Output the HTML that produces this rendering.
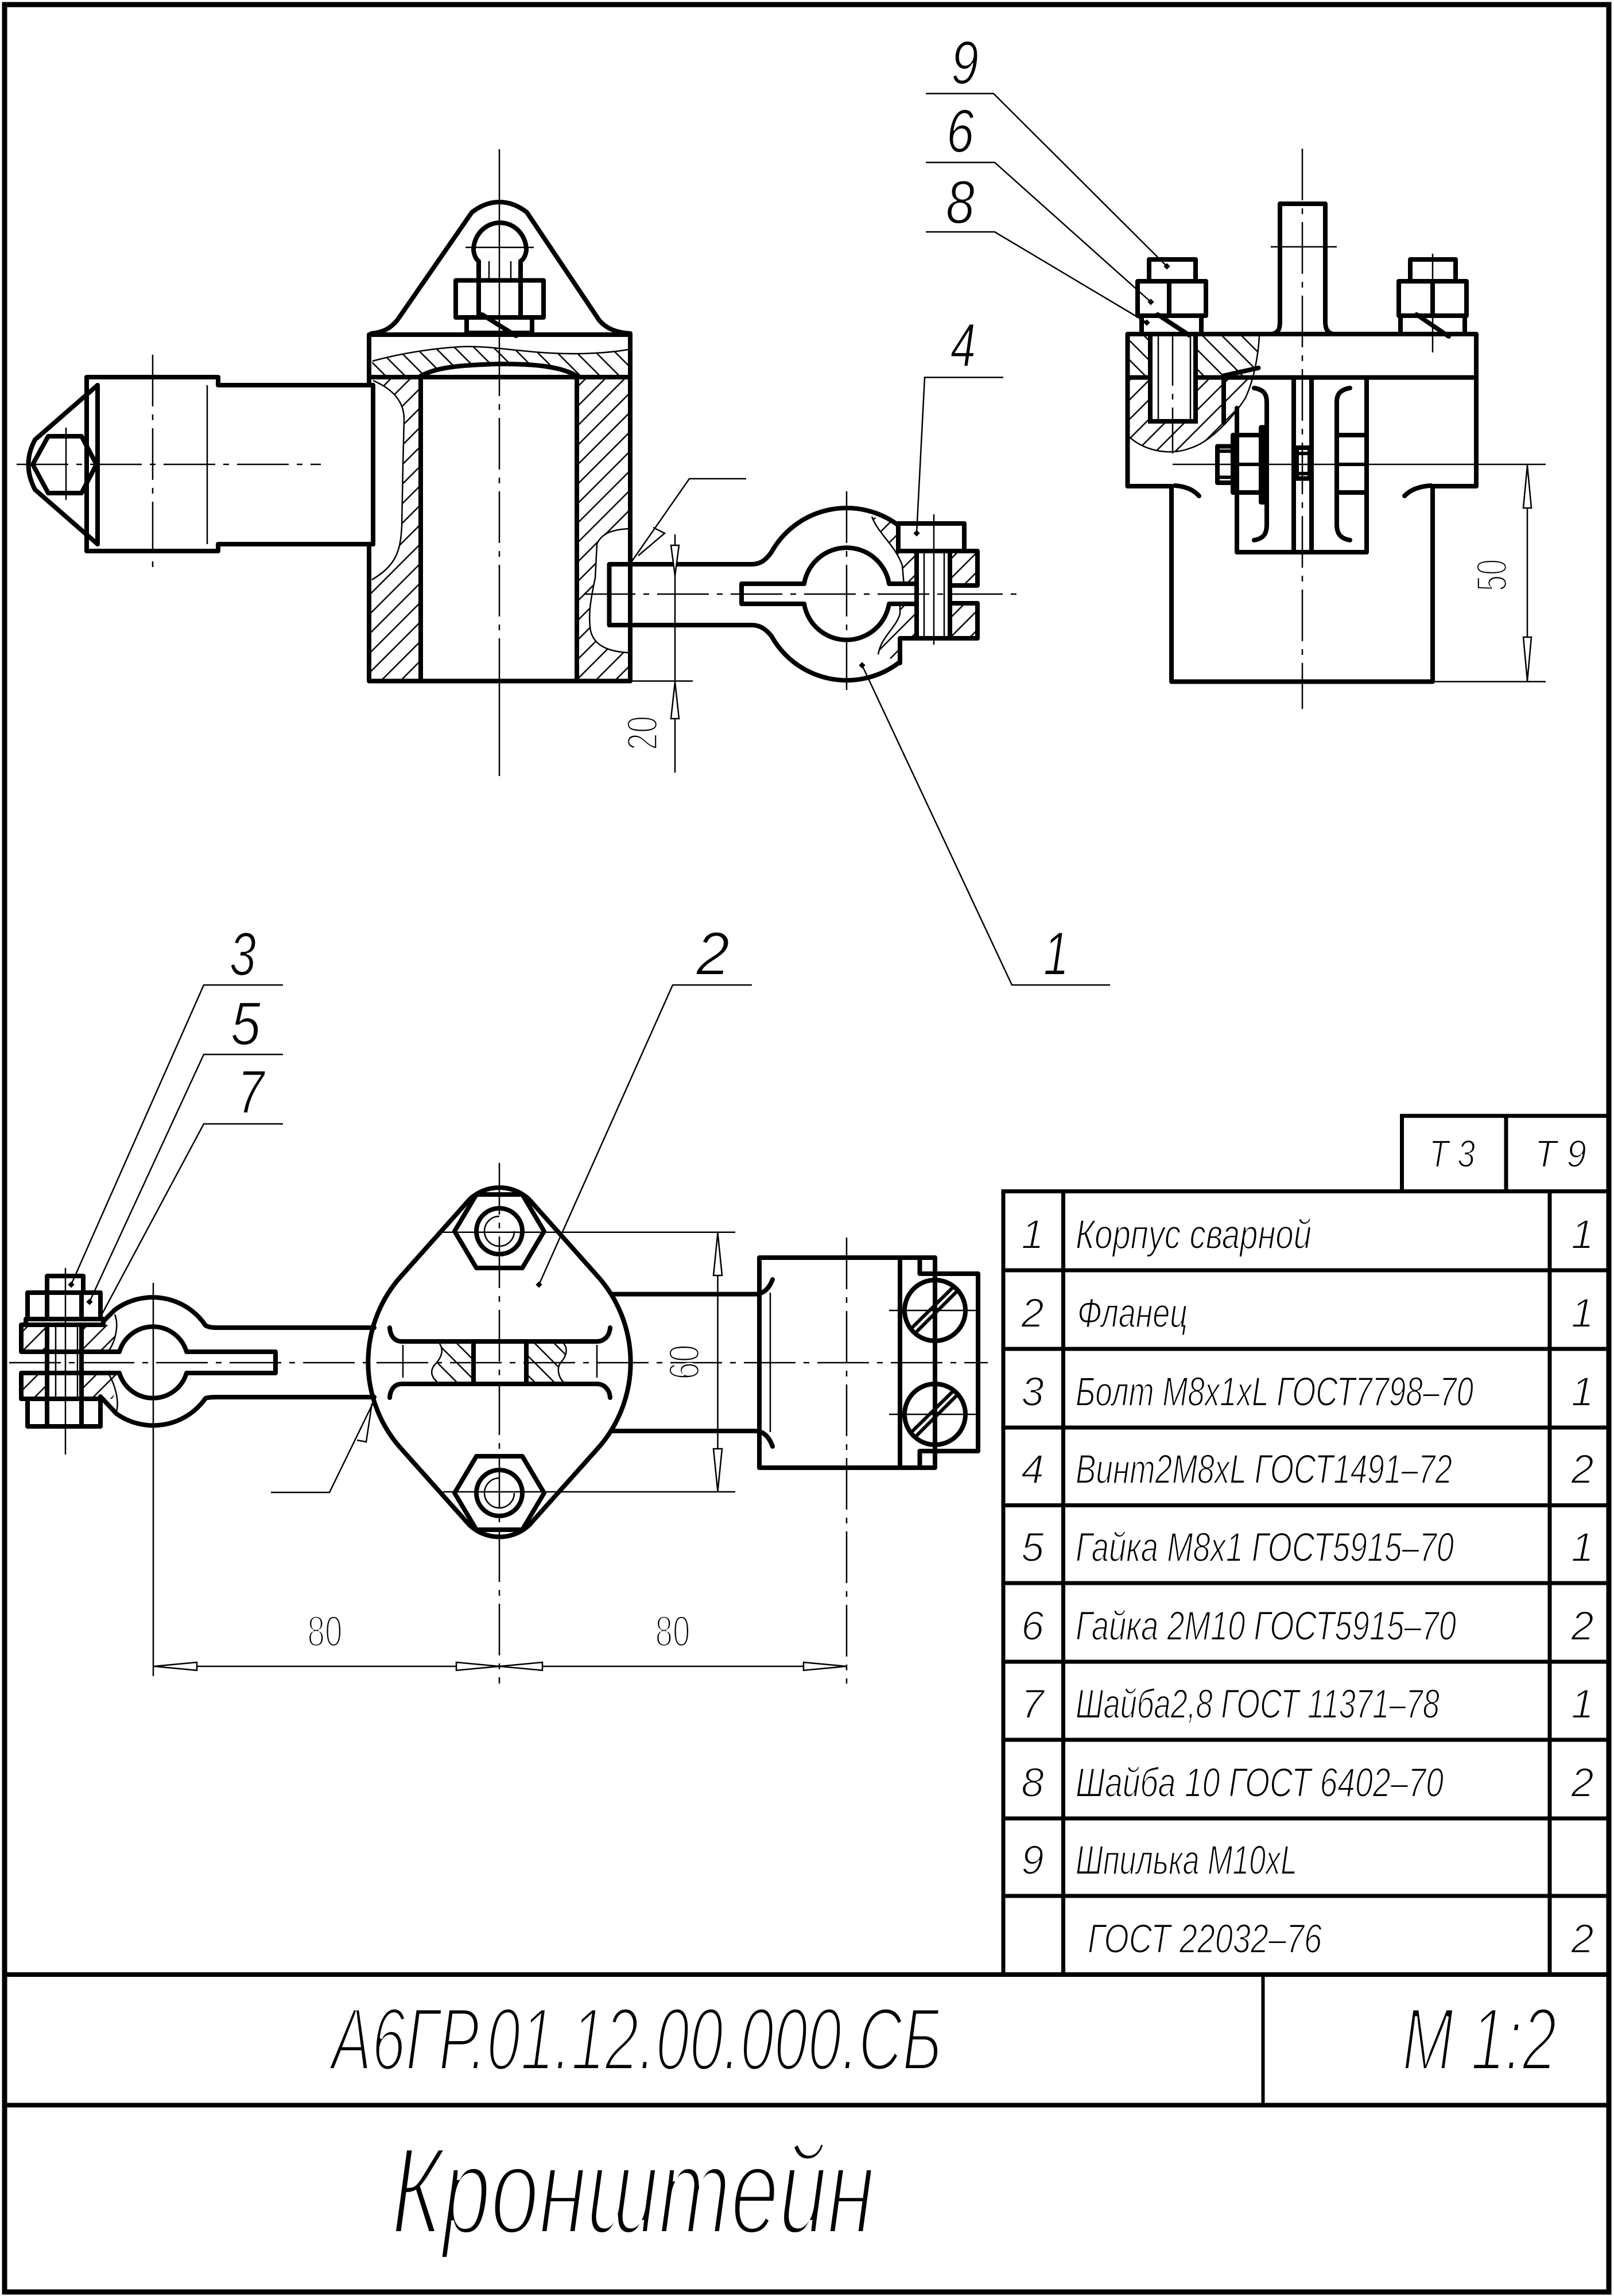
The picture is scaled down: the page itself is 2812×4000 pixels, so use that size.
<!DOCTYPE html>
<html><head><meta charset="utf-8">
<style>html,body{margin:0;padding:0;background:#fff}svg{display:block}</style>
</head><body>
<svg xmlns="http://www.w3.org/2000/svg" width="2812" height="4000" viewBox="0 0 2812 4000">
<defs>
<style>
.k{fill:none;stroke:#000;stroke-width:8;stroke-linejoin:round;stroke-linecap:round}
.m{fill:none;stroke:#000;stroke-width:6;stroke-linejoin:round}
.t{fill:none;stroke:#000;stroke-width:2.5}
.c{fill:none;stroke:#000;stroke-width:2.5;stroke-dasharray:90 14 10 14}
.a{fill:#fff;stroke:#000;stroke-width:2.5}
text{font-family:"Liberation Sans","DejaVu Sans",sans-serif;fill:#000;stroke:#fff;stroke-width:2}
.i{font-style:italic}
.ti{stroke-width:6}
.tk{stroke-width:8}
.tc{stroke-width:3.5}
</style>
<pattern id="hA" patternUnits="userSpaceOnUse" width="24" height="24" patternTransform="rotate(45)"><line x1="12" y1="-5" x2="12" y2="29" stroke="#000" stroke-width="2.5"/></pattern>
<pattern id="hB" patternUnits="userSpaceOnUse" width="24" height="24" patternTransform="rotate(-45)"><line x1="12" y1="-5" x2="12" y2="29" stroke="#000" stroke-width="2.5"/></pattern>
<clipPath id="secR"><path d="M1964.5,582 L2194,586 C2192,620 2185,660 2170,693 C2150,725 2110,770 2073,781 C2045,792 2000,790 1967,761 Z"/></clipPath>
</defs>

<!-- FRAME -->
<rect x="8" y="8" width="2795" height="3985" fill="none" stroke="#000" stroke-width="9"/>

<!-- ============ FRONT VIEW (top-left) ============ -->
<path fill="url(#hB)" d="M649,629 C690,618 740,608 803,604 C850,602 900,612 957,615 C1010,618 1060,615 1094,609 L1098,657 L1005,657 C980,640 920,632 870,632 C820,632 760,636 733,657 L643,657 Z"/>
<path fill="url(#hA)" d="M733,657 L733,1186 L643,1186 L643,1008 C690,985 698,960 700,916 L702,811 L704,730 C704,700 685,678 650,663 L650,657 Z"/>
<path fill="url(#hA)" d="M1005,657 L1098,657 L1098,921 C1070,922 1048,928 1040,948 L1037,1007 C1030,1040 1024,1070 1029,1099 C1035,1125 1060,1135 1098,1137 L1098,1186 L1005,1186 Z"/>
<path class="t" d="M649,629 C690,618 740,608 803,604 C850,602 900,612 957,615 C1010,618 1060,615 1094,609"/>
<path class="t" d="M650,663 C685,678 704,700 704,730 L702,811 L700,916 C698,960 690,985 648,1010"/>
<path class="t" d="M1098,921 C1070,922 1048,928 1040,948 L1037,1007 C1030,1040 1024,1070 1029,1099 C1035,1125 1060,1135 1094,1137"/>
<path class="k" d="M647,581 C668,579 680,572 692,558 L822,370 Q845,352 870,352 Q895,352 918,370 L1044,558 C1056,572 1072,579 1098,581"/>
<path class="k" d="M825,436 A46,48 0 0 1 917,436"/>
<path class="k" d="M825,436 Q827,450 834,455 L834,488 M917,436 Q915,450 907,455 L907,488"/>
<path class="t" d="M852,455 L852,488 M890,455 L890,488 M811,431 L930,431"/>
<rect class="k" x="794" y="488.5" width="153" height="64.5"/>
<path class="k" d="M834,488.5 L834,553 M907,488.5 L907,553"/>
<rect class="k" x="813" y="553" width="114" height="27"/>
<line class="k" x1="840" y1="548" x2="899" y2="585"/>
<path class="k" d="M643,583 L1098,583 L1098,1186.5 L643,1186.5 L643,948 L650,948 L650,671 L643,671 Z"/>
<path class="k" d="M643,657 L1098,657 M733,657 L733,1186.5 M1005,657 L1005,1186.5"/>
<path class="k" d="M733,655 C760,640 800,636 870,634 C940,634 980,640 1005,655"/>
<path class="k" d="M650,671 L380,671 L380,657 L151,657 L151,960 L380,960 L380,948 L650,948"/>
<path class="k" d="M170,671 L170,948 M170,671 L61,766 Q38,809 61,853 L170,948"/>
<polygon class="k" points="84,760 142,760 168,809 142,859 84,859 57,809"/>
<path class="t" d="M361,671 L361,948 M115,745 L115,871"/>
<path class="c" d="M29,809 L559,809 M266,618 L266,997"/>
<path class="t" d="M870,260 L870,600 M870,1186 L870,1352"/>
<path class="c" d="M870,600 L870,1186"/>
<path class="k" d="M1098,983 L1061.5,983 L1061.5,1089 L1098,1089"/>
<path class="k" d="M1098,983 L1310,983 C1325,983 1335,975 1344,962 M1098,1089 L1310,1089 C1325,1089 1335,1097 1344,1108"/>
<path fill="url(#hA)" d="M1519,900 C1530,930 1560,950 1572,985 L1575,1020 L1597,1020 L1597,958 L1565,958 L1565,913 Z"/>
<path fill="url(#hA)" d="M1530,1140 C1535,1110 1560,1095 1568,1070 L1568,1050 L1597,1050 L1597,1113 L1568,1113 L1568,1153 Z"/>
<path fill="url(#hA)" d="M1657,958 L1705,958 L1705,1021 L1657,1021 Z M1657,1051 L1705,1051 L1705,1113 L1657,1113 Z"/>
<path class="t" d="M1519,900 C1530,930 1560,950 1572,985 L1575,1020 M1530,1140 C1535,1110 1560,1095 1568,1070 L1568,1050"/>
<path class="k" d="M1344,962 A150,150 0 0 1 1565,915 M1344,1108 A150,150 0 0 0 1568,1153"/>
<path class="k" d="M1401,1017 L1292,1017 L1292,1052 L1401,1052"/>
<path class="k" d="M1401,1017 A75,75 0 0 1 1549,1017 L1597,1017 M1401,1052 A75,75 0 0 0 1549,1052 L1597,1052"/>
<rect class="k" x="1565" y="912" width="115" height="48"/>
<path class="k" d="M1597,960 L1703,960 L1703,1020 L1655,1020 M1655,1051 L1703,1051 L1703,1112 L1568,1112 L1568,1155"/>
<path class="k" d="M1597,960 L1597,1112 M1655,960 L1655,1112"/>
<path class="t" d="M1610,960 L1610,1112 M1645,960 L1645,1112"/>
<path class="c" d="M1017,1035 L1783,1035 M1475,856 L1475,1215"/>
<path class="t" d="M1627,896 L1627,1123"/>
<path class="t" d="M1176,931 L1176,1346 M1098,1186.5 L1207,1186.5"/>
<polygon class="a" points="1176,1003 1169,950 1183,950"/>
<polygon class="a" points="1176,1188 1169,1252 1183,1252"/>
<text class="tc" transform="translate(1145,1277) rotate(-90)" text-anchor="middle" font-size="75" textLength="60" lengthAdjust="spacingAndGlyphs">20</text>
<path class="t" d="M1100,979 L1201,834 L1300,834 M1138,919 L1158,929 L1112,968"/>

<!-- ============ SIDE VIEW (top-right) ============ -->
<g clip-path="url(#secR)">
<rect x="1960" y="580" width="240" height="78" fill="url(#hB)"/>
<rect x="1960" y="658" width="240" height="140" fill="url(#hA)"/>
</g>
<path class="t" d="M2194,586 C2192,620 2185,660 2170,693 C2150,725 2110,770 2073,781 C2045,792 2000,790 1967,761"/>
<path class="k" d="M1964.5,582 L2572,582 L2572,847 L2496,847 L2496,1187.5 L2041,1187.5 L2041,847 L1964.5,847 Z"/>
<path class="k" d="M1964.5,657.6 L2572,657.6"/>
<path class="k" d="M2216,582 C2228,580 2230,572 2230,560 L2230,355 L2309,355 L2309,560 C2309,572 2312,580 2323,582"/>
<path class="t" d="M2214,430 L2329,430"/>
<path class="c" d="M2269,259 L2269,1235"/>
<rect class="k" x="2002" y="452" width="81" height="38"/>
<rect class="k" x="1982" y="490" width="119" height="60"/>
<path class="k" d="M2037,490 L2037,550"/>
<rect class="k" x="1989" y="550" width="104" height="32"/>
<rect x="2004" y="582" width="79" height="152" fill="#fff" stroke="#000" stroke-width="8"/>
<path class="t" d="M2018,582 L2018,734 M2074,582 L2074,734"/>
<path class="c" d="M2043,582 L2043,790"/>
<line class="k" x1="2017" y1="548" x2="2072" y2="584"/>
<rect class="k" x="2457" y="452" width="79" height="38"/>
<rect class="k" x="2437" y="490" width="118" height="60"/>
<path class="k" d="M2496,490 L2496,550"/>
<rect class="k" x="2440" y="550" width="112" height="32"/>
<line class="k" x1="2468" y1="548" x2="2524" y2="586"/>
<path class="t" d="M2496,442 L2496,614"/>
<path class="k" d="M2132,654.5 L2192.5,641 M2132,657.6 L2132,736"/>
<path class="k" d="M2155,711 L2155,962 L2381,962 L2381,657.6"/>
<path class="k" d="M2254,657.6 L2254,962 M2285,657.6 L2285,962"/>
<path class="k" d="M2185,676 C2203,679 2207,688 2207,700 L2207,914 C2207,928 2203,938 2185,941"/>
<path class="k" d="M2352,676 C2334,679 2329,688 2329,700 L2329,914 C2329,928 2334,938 2352,941"/>
<rect class="k" x="2121" y="777.6" width="27" height="63.4"/>
<path class="m" d="M2121,786 L2148,786 M2121,831.5 L2148,831.5"/>
<rect class="k" x="2148" y="758" width="49" height="100"/>
<rect class="k" x="2197" y="744.5" width="7" height="130.5"/>
<rect class="k" x="2259" y="780" width="23" height="53.6"/>
<rect class="k" x="2329" y="758" width="52" height="100"/>
<path class="m" d="M2148,809 L2197,809 M2329,809 L2381,809 M2259,790 L2282,790 M2259,825 L2282,825"/>
<path class="k" d="M2047,846 Q2075,848 2089,864 M2447,864 Q2462,848 2493,846"/>
<path class="t" d="M2043,809 L2693,809 M2496,1187.5 L2693,1187.5 M2661,809 L2661,1187.5"/>
<polygon class="a" points="2661,811 2654,885 2668,885"/>
<polygon class="a" points="2661,1186 2654,1110 2668,1110"/>
<text class="tc" transform="translate(2625,1002) rotate(-90)" text-anchor="middle" font-size="75" textLength="56" lengthAdjust="spacingAndGlyphs">50</text>

<!-- ============ PLAN VIEW (bottom) ============ -->
<path fill="url(#hA)" d="M37,2308 L82,2308 L82,2355 L37,2355 Z M37,2392 L82,2392 L82,2437 L37,2437 Z M142,2308 L195,2308 C205,2330 198,2345 205,2355 L142,2355 Z M142,2392 L205,2392 C198,2410 205,2425 195,2437 L142,2437 Z"/>
<path class="t" d="M200,2290 C208,2310 200,2340 188,2355 M188,2392 C200,2410 208,2440 203,2458"/>
<path class="t" d="M114,2209 L114,2534 M97,2308 L97,2437 M135,2308 L135,2437"/>
<rect class="k" x="82" y="2223" width="63" height="29"/>
<rect class="k" x="48" y="2252" width="127" height="46"/>
<path class="k" d="M82,2252 L82,2298 M142,2252 L142,2298"/>
<rect class="k" x="45" y="2298" width="135" height="10"/>
<path class="k" d="M180,2308 L37,2308 L37,2355 L142,2355 M142,2392 L37,2392 L37,2437 L175,2437"/>
<path class="k" d="M82,2308 L82,2437 M142,2308 L142,2437"/>
<rect class="k" x="48" y="2437" width="127" height="48"/>
<path class="k" d="M82,2437 L82,2485 M142,2437 L142,2485"/>
<path class="k" d="M180,2302 L200,2282 A111,111 0 0 1 358,2309 Q364,2313 378,2313 L652,2313"/>
<path class="k" d="M175,2433 L203,2463 A111,111 0 0 0 358,2436 Q364,2434 378,2434 L652,2434"/>
<path class="k" d="M142,2355 L208,2355 A61,61 0 0 1 325,2355 L480,2355 L480,2392 L325,2392 A61,61 0 0 1 208,2392 L142,2392"/>
<path class="t" d="M267,2235 L267,2920"/>
<path class="c" d="M16,2374 L1721,2374"/>
<path class="k" d="M818,2089.6 A76,76 0 0 1 922,2089.6 L1040,2222 A225,225 0 0 1 1040,2525 L922,2657 A76,76 0 0 1 818,2657 L700,2525 A225,225 0 0 1 700,2222 Z"/>
<polygon class="k" points="830,2081 910,2081 948,2145 910,2209 830,2209 792,2145"/>
<polygon class="k" points="830,2537 910,2537 948,2601 910,2665 830,2665 792,2601"/>
<circle class="k" cx="870" cy="2145" r="40"/>
<circle class="k" cx="870" cy="2601" r="40"/>
<path class="t" d="M870,2119 A26,26 0 1 0 896,2145 M870,2575 A26,26 0 1 0 896,2601"/>
<path fill="url(#hB)" d="M763,2337 L825,2337 L825,2411 L765,2411 C752,2400 748,2390 757,2378 C770,2365 775,2350 763,2337 Z"/>
<path fill="url(#hB)" d="M917,2337 L978,2337 C990,2345 988,2360 980,2370 C968,2382 972,2400 985,2411 L917,2411 Z"/>
<path class="t" d="M763,2337 C775,2350 770,2365 757,2378 C748,2390 752,2400 765,2411 M978,2337 C990,2345 988,2360 980,2370 C968,2382 972,2400 985,2411"/>
<path class="k" d="M679,2313 C680,2328 688,2337 700,2337 L1040,2337 C1052,2337 1062,2328 1063,2313"/>
<path class="k" d="M679,2435 C680,2420 688,2411 700,2411 L1040,2411 C1052,2411 1062,2420 1063,2435"/>
<path class="k" d="M825,2337 L825,2411 M917,2337 L917,2411"/>
<path class="t" d="M702,2343 L702,2400 M1040,2343 L1040,2400"/>
<path class="c" d="M870,2026 L870,2933"/>
<path class="k" d="M1065,2254.6 L1315,2254.6 C1330,2254.6 1340,2245 1346,2229 M1065,2493 L1315,2493 C1330,2493 1340,2503 1346,2520"/>
<rect class="k" x="1323" y="2191" width="306" height="366"/>
<path class="t" d="M1342,2252 L1342,2495"/>
<path class="k" d="M1568,2191 L1568,2557"/>
<path class="k" d="M1602.5,2191 L1602.5,2219 L1704,2219 L1704,2528 L1602.5,2528 L1602.5,2557"/>
<circle class="k" cx="1629" cy="2283" r="53"/>
<circle class="k" cx="1629" cy="2464" r="53"/>
<path class="m" d="M1588,2314 L1661,2242 M1596,2321 L1668,2249 M1588,2495 L1661,2423 M1596,2502 L1668,2430"/>
<path class="t" d="M1549,2283 L1702,2283 M1549,2464 L1702,2464"/>
<path class="c" d="M1475,2156 L1475,2933"/>
<path class="t" d="M772,2146.7 L1281,2146.7 M772,2599 L1281,2599 M1250.5,2147 L1250.5,2599"/>
<polygon class="a" points="1250.5,2148 1243,2222 1258,2222"/>
<polygon class="a" points="1250.5,2598 1243,2524 1258,2524"/>
<text class="tc" transform="translate(1218,2373) rotate(-90)" text-anchor="middle" font-size="75" textLength="61" lengthAdjust="spacingAndGlyphs">60</text>
<path class="t" d="M268,2903 L1475,2903"/>
<polygon class="a" points="268,2903 343,2896 343,2910"/>
<polygon class="a" points="870,2903 795,2896 795,2910"/>
<polygon class="a" points="870,2903 945,2896 945,2910"/>
<polygon class="a" points="1475,2903 1400,2896 1400,2910"/>
<text class="tc" x="566" y="2868" text-anchor="middle" font-size="75" textLength="61" lengthAdjust="spacingAndGlyphs">80</text>
<text class="tc" x="1172" y="2868" text-anchor="middle" font-size="75" textLength="61" lengthAdjust="spacingAndGlyphs">80</text>
<path class="t" d="M651,2442 L574,2600 L472,2600 M622,2509 L638,2512 L648,2445"/>

<!-- ============ LEADERS & CALLOUTS ============ -->
<path class="t" d="M1613,163 L1731,163 L2033,464 M1613,283 L1733,283 L2005,526 M1613,404 L1733,404 L1998,562"/>
<path class="t" d="M1748,657.5 L1611,657.5 L1597,929"/>
<path class="t" d="M1934,1716 L1763,1716 L1502,1159"/>
<path class="t" d="M1310,1716 L1172,1716 L939,2238"/>
<path class="t" d="M493,1716 L355,1716 L124,2238 M493,1837 L355,1837 L156,2268 M493,1958 L355,1958 L172,2300"/>
<g fill="#000">
<rect x="-4" y="-4" width="8" height="8" transform="translate(2033,464) rotate(45)"/>
<rect x="-4" y="-4" width="8" height="8" transform="translate(2005,526) rotate(45)"/>
<rect x="-4" y="-4" width="8" height="8" transform="translate(1998,562) rotate(45)"/>
<rect x="-4" y="-4" width="8" height="8" transform="translate(1597,929) rotate(45)"/>
<rect x="-4" y="-4" width="8" height="8" transform="translate(1502,1159) rotate(45)"/>
<rect x="-4" y="-4" width="8" height="8" transform="translate(939,2238) rotate(45)"/>
<rect x="-4" y="-4" width="8" height="8" transform="translate(124,2238) rotate(45)"/>
<rect x="-4" y="-4" width="8" height="8" transform="translate(156,2268) rotate(45)"/>
</g>
<g class="i" font-size="107" style="stroke-width:4">
<text x="1657" y="146" textLength="48" lengthAdjust="spacingAndGlyphs">9</text>
<text x="1649" y="265" textLength="48" lengthAdjust="spacingAndGlyphs">6</text>
<text x="1648" y="389" textLength="50" lengthAdjust="spacingAndGlyphs">8</text>
<text x="1656" y="638" textLength="44" lengthAdjust="spacingAndGlyphs">4</text>
<text x="1818" y="1698" textLength="44" lengthAdjust="spacingAndGlyphs">1</text>
<text x="1213" y="1698" textLength="58" lengthAdjust="spacingAndGlyphs">2</text>
<text x="400" y="1699" textLength="46" lengthAdjust="spacingAndGlyphs">3</text>
<text x="402" y="1820" textLength="52" lengthAdjust="spacingAndGlyphs">5</text>
<text x="414" y="1939" textLength="46" lengthAdjust="spacingAndGlyphs">7</text>
</g>

<!-- ============ PARTS TABLE ============ -->
<path fill="none" stroke="#000" stroke-width="7" d="M2442.5,2075.5 L2442.5,1944 L2803,1944 M2624,1944 L2624,2075.5"/>
<path fill="none" stroke="#000" stroke-width="7" d="M1748,3440 L1748,2075.5 L2803,2075.5 M1852.5,2075.5 L1852.5,3440 M2700,2075.5 L2700,3440"/>
<path fill="none" stroke="#000" stroke-width="7" d="M1748,2213 L2803,2213 M1748,2350 L2803,2350 M1748,2487 L2803,2487 M1748,2622.5 L2803,2622.5 M1748,2758 L2803,2758 M1748,2895 L2803,2895 M1748,3031 L2803,3031 M1748,3168 L2803,3168 M1748,3303 L2803,3303"/>
<g class="i" font-size="67">
<text x="2490" y="2033" textLength="80" lengthAdjust="spacingAndGlyphs">Т 3</text>
<text x="2674" y="2033" textLength="90" lengthAdjust="spacingAndGlyphs">Т 9</text>
</g>
<g class="i" font-size="71" text-anchor="middle">
<text x="1799" y="2175">1</text>
<text x="1799" y="2312">2</text>
<text x="1799" y="2449">3</text>
<text x="1799" y="2584">4</text>
<text x="1799" y="2720">5</text>
<text x="1799" y="2857">6</text>
<text x="1799" y="2993">7</text>
<text x="1799" y="3130">8</text>
<text x="1799" y="3265">9</text>
<text x="2757" y="2175">1</text>
<text x="2757" y="2312">1</text>
<text x="2757" y="2449">1</text>
<text x="2757" y="2584">2</text>
<text x="2757" y="2720">1</text>
<text x="2757" y="2857">2</text>
<text x="2757" y="2993">1</text>
<text x="2757" y="3130">2</text>
<text x="2757" y="3402">2</text>
</g>
<g class="i" font-size="71">
<text x="1874" y="2175" textLength="411" lengthAdjust="spacingAndGlyphs">Корпус сварной</text>
<text x="1877" y="2312" textLength="192" lengthAdjust="spacingAndGlyphs">Фланец</text>
<text x="1874" y="2449" textLength="693" lengthAdjust="spacingAndGlyphs">Болт М8х1хL ГОСТ7798–70</text>
<text x="1874" y="2584" textLength="656" lengthAdjust="spacingAndGlyphs">Винт2М8хL ГОСТ1491–72</text>
<text x="1874" y="2720" textLength="659" lengthAdjust="spacingAndGlyphs">Гайка М8х1 ГОСТ5915–70</text>
<text x="1874" y="2857" textLength="663" lengthAdjust="spacingAndGlyphs">Гайка 2М10 ГОСТ5915–70</text>
<text x="1874" y="2993" textLength="634" lengthAdjust="spacingAndGlyphs">Шайба2,8 ГОСТ 11371–78</text>
<text x="1874" y="3130" textLength="641" lengthAdjust="spacingAndGlyphs">Шайба 10 ГОСТ 6402–70</text>
<text x="1874" y="3265" textLength="386" lengthAdjust="spacingAndGlyphs">Шпилька М10хL</text>
<text x="1895" y="3402" textLength="408" lengthAdjust="spacingAndGlyphs">ГОСТ 22032–76</text>
</g>

<!-- ============ TITLE BLOCK ============ -->
<path fill="none" stroke="#000" stroke-width="8" d="M8,3440 L2803,3440 M8,3667.5 L2803,3667.5"/>
<path fill="none" stroke="#000" stroke-width="6" d="M2200.5,3440 L2200.5,3667.5"/>
<text class="i ti" x="577" y="3606" font-size="155" textLength="1064" lengthAdjust="spacingAndGlyphs">А6ГР.01.12.00.000.СБ</text>
<text class="i ti" x="2443" y="3606" font-size="155" textLength="269" lengthAdjust="spacingAndGlyphs">М 1:2</text>
<text class="i tk" x="682" y="3891" font-size="216" textLength="842" lengthAdjust="spacingAndGlyphs">Кронштейн</text>
</svg>
</body></html>
